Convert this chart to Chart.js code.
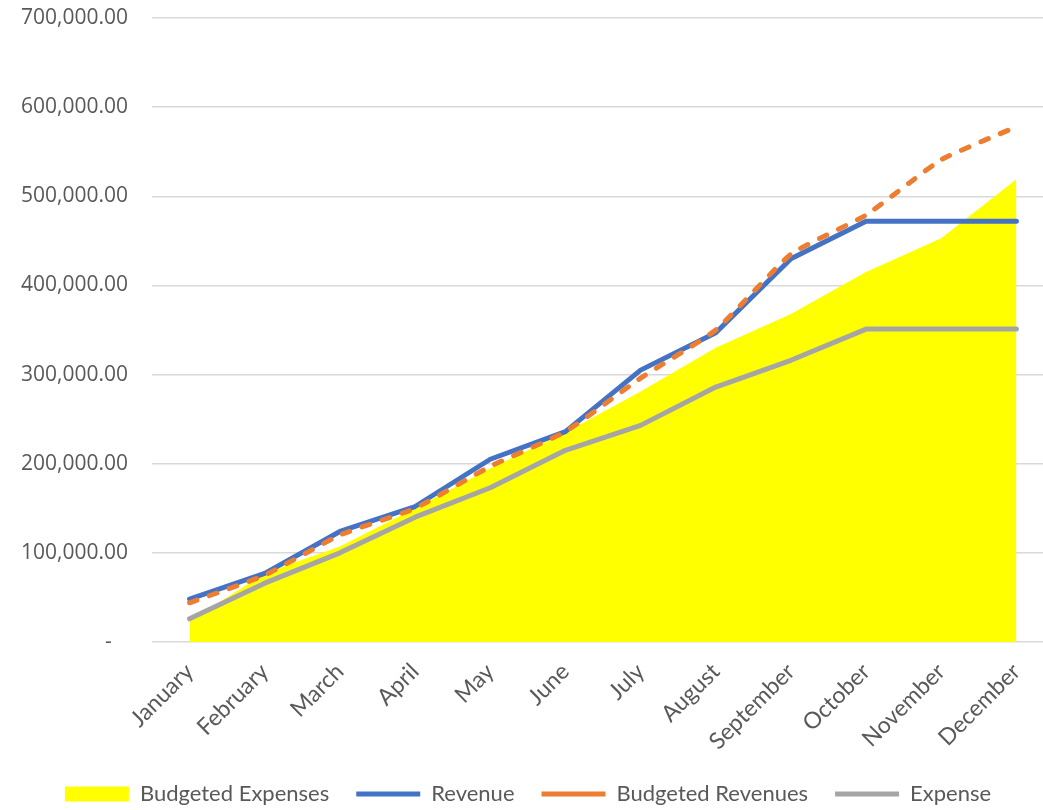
<!DOCTYPE html>
<html>
<head>
<meta charset="utf-8">
<script src="https://cdn.jsdelivr.net/npm/chart.js@4.4.1/dist/chart.umd.min.js"></script>
<style>
    html, body { margin: 0; padding: 0; background: #fff; overflow: hidden; }
    #wrap { width: 1060px; height: 810px; overflow: hidden; }
</style>
</head>
<body>
<div id="wrap"><canvas id="budgetChart" width="1060" height="815"></canvas></div>
<script>
// Monthly cumulative figures
const months = ['January', 'February', 'March', 'April', 'May', 'June', 'July', 'August', 'September', 'October', 'November', 'December'];
const budgetedExpenses = [23000, 77000, 107000, 150000, 195000, 235000, 281000, 330000, 368000, 415000, 453000, 519000];
const revenue = [48000, 77000, 124000, 152000, 205000, 236000, 305000, 347000, 430000, 472000, 472000, 472000];
const budgetedRevenues = [44000, 75000, 120000, 150000, 197000, 236000, 296000, 350000, 435000, 479000, 541000, 578000];
const expense = [26000, 66000, 100000, 140000, 173000, 215000, 243000, 286000, 316000, 351000, 351000, 351000];
const yTicks = [0, 100000, 200000, 300000, 400000, 500000, 600000, 700000];

const textColor = '#595959';

function formatAmount(value) {
    if (value === 0) return '-   ';
    return value.toLocaleString('en-US', { minimumFractionDigits: 2, maximumFractionDigits: 2 });
}

const ctx = document.getElementById('budgetChart').getContext('2d');

new Chart(ctx, {
    type: 'line',
    data: {
        labels: months,
        datasets: [
            {
                label: 'Budgeted Expenses',
                data: budgetedExpenses,
                backgroundColor: '#FFFF00',
                borderColor: '#FFFF00',
                borderWidth: 0,
                fill: 'origin',
                pointRadius: 0,
                pointStyle: 'rect',
                tension: 0,
                order: 4
            },
            {
                label: 'Revenue',
                data: revenue,
                borderColor: '#4472C4',
                backgroundColor: '#4472C4',
                borderWidth: 5,
                borderCapStyle: 'round',
                borderJoinStyle: 'round',
                fill: false,
                pointRadius: 0,
                pointStyle: 'line',
                tension: 0,
                order: 2
            },
            {
                label: 'Budgeted Revenues',
                data: budgetedRevenues,
                borderColor: '#ED7D31',
                backgroundColor: '#ED7D31',
                borderWidth: 5,
                borderDash: [8, 13],
                borderCapStyle: 'round',
                borderJoinStyle: 'round',
                fill: false,
                pointRadius: 0,
                pointStyle: 'line',
                tension: 0.15,
                order: 1
            },
            {
                label: 'Expense',
                data: expense,
                borderColor: '#A5A5A5',
                backgroundColor: '#A5A5A5',
                borderWidth: 5,
                borderCapStyle: 'round',
                borderJoinStyle: 'round',
                fill: false,
                pointRadius: 0,
                pointStyle: 'line',
                tension: 0,
                order: 3
            }
        ]
    },
    options: {
        responsive: false,
        animation: false,
        layout: {
            padding: { left: 2, right: 6, top: 0, bottom: 0 }
        },
        scales: {
            x: {
                offset: true,
                grid: { display: false },
                border: { display: false },
                ticks: {
                    color: textColor,
                    font: { family: 'Lato', size: 23 },
                    maxRotation: 45,
                    minRotation: 45,
                    autoSkip: false,
                    padding: 8
                },
                afterFit: function (axis) {
                    axis.height = 114;
                }
            },
            y: {
                min: 0,
                max: 700000,
                afterBuildTicks: function (axis) {
                    axis.ticks = yTicks.map(v => ({ value: v }));
                },
                grid: {
                    color: '#D9D9D9',
                    lineWidth: 1.5,
                    drawTicks: false
                },
                border: { display: false },
                ticks: {
                    color: textColor,
                    font: { family: 'Open Sans', size: 21 },
                    padding: 24,
                    callback: function (value) {
                        return formatAmount(value);
                    }
                },
                afterFit: function (axis) {
                    axis.width = 150;
                    axis.paddingTop = 18;
                    axis.paddingBottom = 0;
                }
            }
        },
        plugins: {
            legend: {
                position: 'bottom',
                labels: {
                    usePointStyle: true,
                    pointStyleWidth: 64,
                    boxHeight: 15,
                    color: textColor,
                    font: { family: 'Lato', size: 22 },
                    padding: 27,
                    sort: function (a, b) {
                        return a.datasetIndex - b.datasetIndex;
                    }
                }
            },
            tooltip: { enabled: false }
        }
    }
});
</script>
</body>
</html>
